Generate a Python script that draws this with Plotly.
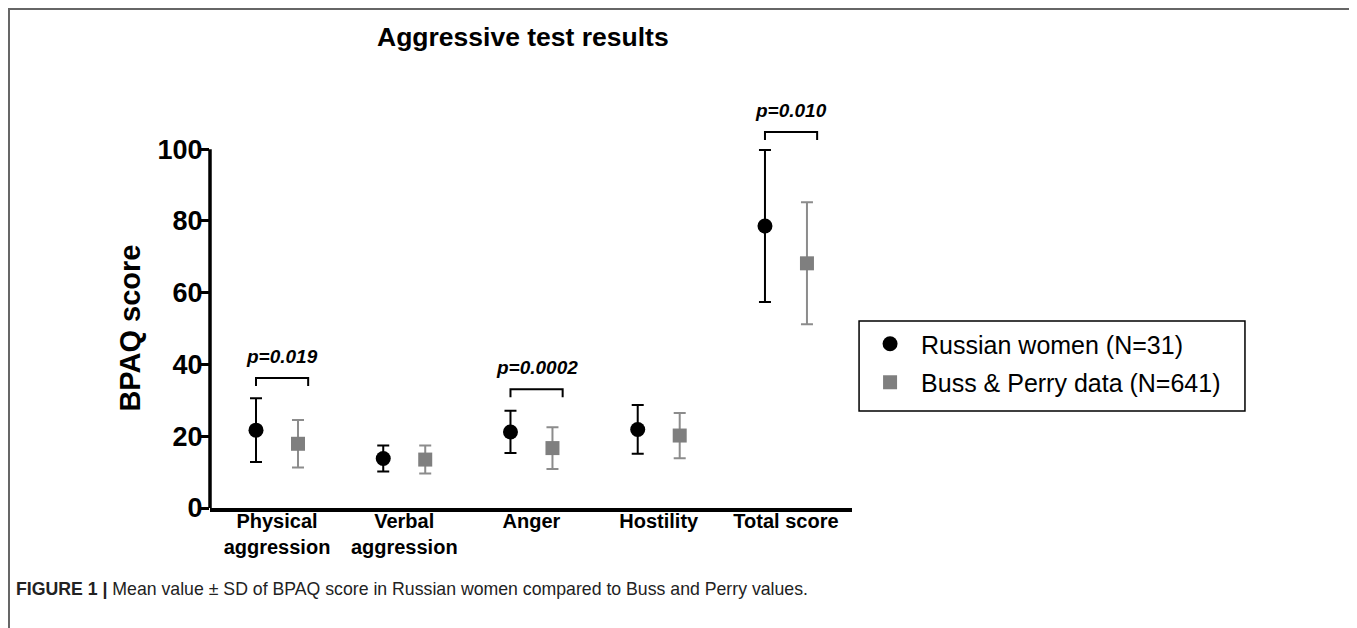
import plotly.graph_objects as go

# ---- data ----
categories = ["Physical<br>aggression", "Verbal<br>aggression", "Anger", "Hostility", "Total score"]
russian_mean = [21.7, 13.8, 21.2, 21.9, 78.6]
russian_sd = [8.9, 3.6, 5.9, 6.8, 21.2]
buss_mean = [17.9, 13.5, 16.7, 20.2, 68.2]
buss_sd = [6.6, 3.9, 5.8, 6.3, 17.0]
series_names = ["Russian women (N=31)", "Buss & Perry data (N=641)"]
y_ticks = [0, 20, 40, 60, 80, 100]

# significance brackets
p_categories = [0, 2, 4]
p_bracket_y = [36.2, 33.1, 104.8]
p_labels = ["p=0.019", "p=0.0002", "p=0.010"]

FONT = "Arial, Liberation Sans, Helvetica, sans-serif"
OFF = 0.165  # horizontal dodge of the two series within a category
xs = list(range(len(categories)))

fig = go.Figure()
fig.add_trace(go.Scatter(
    x=[i - OFF for i in xs], y=russian_mean, mode="markers", name=series_names[0],
    marker=dict(symbol="circle", size=15, color="black"),
    error_y=dict(type="data", array=russian_sd, color="black", thickness=2, width=6),
    legendgroup="a",
))
fig.add_trace(go.Scatter(
    x=[i + OFF for i in xs], y=buss_mean, mode="markers", name=series_names[1],
    marker=dict(symbol="square", size=14, color="#7f7f7f"),
    error_y=dict(type="data", array=buss_sd, color="#8c8c8c", thickness=2, width=6),
    legendgroup="b",
))

shapes = []
annotations = []
# brackets + p labels
for c, yb, lab in zip(p_categories, p_bracket_y, p_labels):
    x0 = c - OFF
    x1 = c + OFF + 0.08
    leg = 2.2
    shapes.append(dict(type="path", xref="x", yref="y",
                       path=f"M {x0},{yb-leg} L {x0},{yb} L {x1},{yb} L {x1},{yb-leg}",
                       line=dict(color="black", width=2)))
    annotations.append(dict(x=(x0 + x1) / 2, y=yb + 6, xref="x", yref="y",
                            text=f"<b><i>{lab}</i></b>", showarrow=False,
                            font=dict(family=FONT, size=19, color="black"),
                            xanchor="center", yanchor="middle"))

# y axis line only up to 100
shapes.append(dict(type="line", xref="paper", yref="y", x0=0, x1=0, y0=0, y1=max(y_ticks),
                   line=dict(color="black", width=3.5)))
# outer frame
shapes.append(dict(type="rect", xref="paper", yref="paper",
                   x0=-0.3131, x1=1.7835, y0=-0.6, y1=1.22,
                   line=dict(color="#666666", width=2), fillcolor="rgba(0,0,0,0)", layer="below"))
# legend box
shapes.append(dict(type="rect", xref="paper", yref="paper",
                   x0=1.011, x1=1.6121, y0=0.2372, y1=0.4572,
                   line=dict(color="black", width=1.5), fillcolor="rgba(0,0,0,0)"))

# title
annotations.append(dict(x=0.4875, y=1.1516, xref="paper", yref="paper",
                        text="<b>Aggressive test results</b>", showarrow=False,
                        font=dict(family=FONT, size=26.5, color="black"),
                        xanchor="center", yanchor="middle"))
# y axis title
annotations.append(dict(x=-0.1246, y=50, xref="paper", yref="y",
                        text="<b>BPAQ score</b>", showarrow=False, textangle=-90,
                        font=dict(family=FONT, size=29, color="black"),
                        xanchor="center", yanchor="middle"))
# caption
annotations.append(dict(x=-0.3053, y=-0.198, xref="paper", yref="paper",
                        text="<b>FIGURE 1 |</b> Mean value ± SD of BPAQ score in Russian women compared to Buss and Perry values.",
                        showarrow=False,
                        font=dict(family=FONT, size=17.7, color="#222222"),
                        xanchor="left", yanchor="middle"))

fig.update_layout(
    width=1349, height=620,
    margin=dict(l=202, r=505, t=91, b=120),
    plot_bgcolor="white", paper_bgcolor="white",
    showlegend=True,
    legend=dict(x=1.011, y=0.4572, xanchor="left", yanchor="top",
                borderwidth=0, bgcolor="rgba(0,0,0,0)",
                font=dict(family=FONT, size=25, color="black"),
                tracegroupgap=3, itemwidth=52),
    shapes=shapes,
    annotations=annotations,
)
fig.update_xaxes(range=[-0.5265, 4.519], tickmode="array", tickvals=xs,
                 ticktext=[f"<b>{c}</b>" for c in categories],
                 showline=True, linecolor="black", linewidth=3.5, ticks="",
                 showgrid=False, zeroline=False, ticklabelstandoff=-8,
                 tickfont=dict(family=FONT, size=20, color="black"))
fig.update_yaxes(range=[0, 114], tickmode="array", tickvals=y_ticks,
                 ticktext=[f"<b>{t}</b>" for t in y_ticks],
                 showline=False, ticks="outside", ticklen=8, tickwidth=3, tickcolor="black",
                 showgrid=False, zeroline=False, ticklabelstandoff=-7,
                 tickfont=dict(family=FONT, size=27, color="black"))

fig.write_html("out.html")
